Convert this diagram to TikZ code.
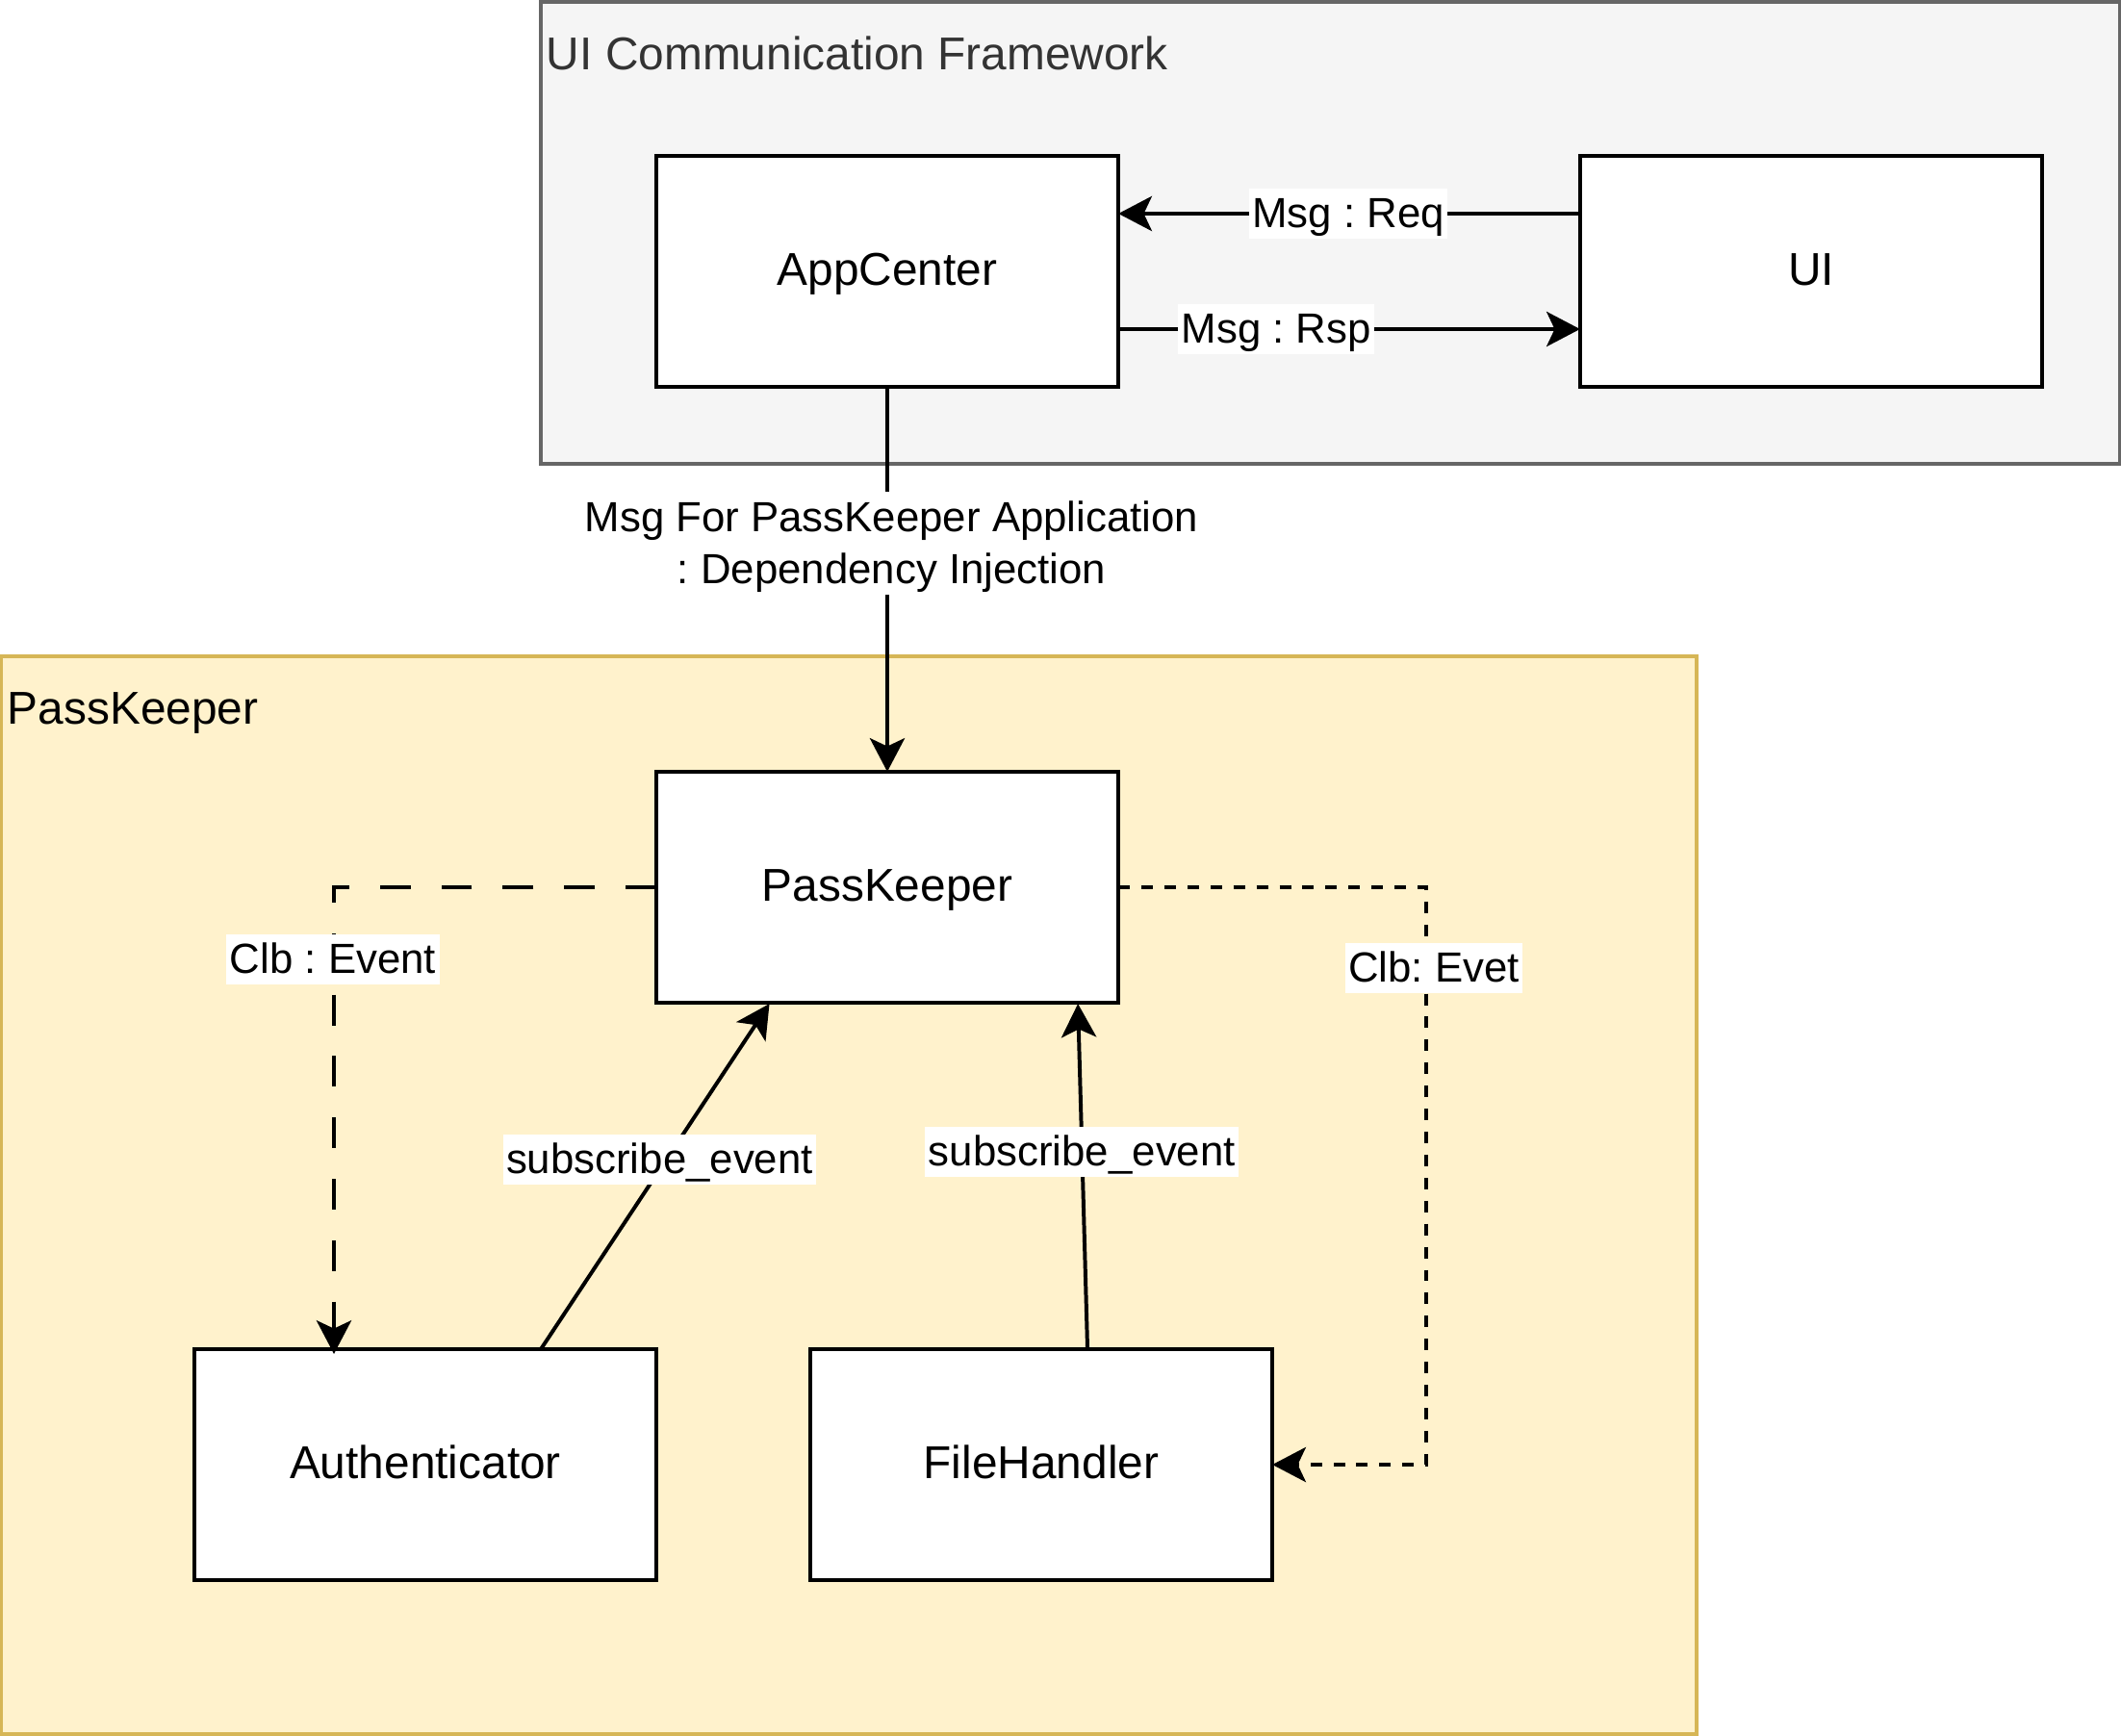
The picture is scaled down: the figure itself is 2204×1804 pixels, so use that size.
\documentclass[tikz,border=0pt]{standalone}
\usepackage{fontspec}
\setmainfont{Liberation Sans}
\usetikzlibrary{arrows.meta,calc}
\definecolor{uifill}{HTML}{F5F5F5}
\definecolor{uistroke}{HTML}{666666}
\definecolor{uitext}{HTML}{333333}
\definecolor{pkfill}{HTML}{FFF2CC}
\definecolor{pkstroke}{HTML}{D6B656}
\frenchspacing
\begin{document}
\begin{tikzpicture}[x=0.01cm,y=-0.01cm,line width=1.13pt,
  nodefont/.style={font=\fontsize{13.6pt}{16.3pt}\selectfont},
  lblfont/.style={font=\fontsize{12.45pt}{15.6pt}\selectfont},
  box/.style={draw=black,fill=white,minimum width=4.8cm,minimum height=2.4cm,inner sep=0pt,outer sep=0pt,nodefont,text height=10pt,text depth=1.5pt},
  arr/.style={-{Stealth[length=9.9pt,width=10.3pt,inset=2.4pt]}},
  lbl/.style={fill=white,inner xsep=1pt,inner ysep=0.6pt,text height=10.9pt,text depth=2.6pt,lblfont},
  lbltwo/.style={fill=white,inner xsep=1pt,inner ysep=0.6pt,lblfont,align=center},
  longdash/.style={dash pattern=on 9.07pt off 9.07pt},
  shortdash/.style={dash pattern=on 3.4pt off 3.4pt},
  title/.style={anchor=base west,inner sep=0pt,nodefont},
]
\useasboundingbox (0,0) rectangle (2204,1804);
% containers
\node[draw=uistroke,fill=uifill,minimum width=16.4cm,minimum height=4.8cm,inner sep=0pt,outer sep=0pt] (uicf) at (1382,242) {};
\node[title,text=uitext] (uititle) at (566,73) {UI Communication Framework};
\node[draw=pkstroke,fill=pkfill,minimum width=17.6cm,minimum height=11.2cm,inner sep=0pt,outer sep=0pt] (pkc) at (882,1242) {};
\node[title] (pktitle) at (6,752) {PassKeeper};
% nodes
\node[box] (app) at (922,282) {AppCenter};
\node[box] (ui) at (1882,282) {UI};
\node[box] (pk) at (922,922) {PassKeeper};
\node[box] (auth) at (442,1522) {Authenticator};
\node[box] (fh) at (1082,1522) {FileHandler};
% connectors
\coordinate (reqy) at (0,222);
\coordinate (rspy) at (0,342);
\draw[arr] (ui.west |- reqy) -- node[lbl,pos=0.502] (lreq) {Msg : Req} (app.east |- reqy);
\draw[arr] (app.east |- rspy) -- node[lbl,pos=0.342] (lrsp) {Msg : Rsp} (ui.west |- rspy);
\draw[arr] (app.south) -- node[lbltwo,pos=0.407,xshift=0.045cm] (ldi) {\strut Msg For PassKeeper Application\\: Dependency Injection\rule[-2.6pt]{0pt}{2.6pt}} (pk.north);
\coordinate (authin) at (347,1407);
\draw[arr,longdash] (pk.west) -| (authin);
\node[lbl] (lclb1) at (346,997) {Clb : Event};
\coordinate (dotx) at (1482,0);
\draw[arr,shortdash] (pk.east) -- (pk.east -| dotx) -- (dotx |- fh.east) -- (fh.east);
\node[lbl] (lclb2) at (1490,1006) {Clb: Evet};
\draw[arr] ($(auth.north west)!0.75!(auth.north east)$) -- node[lbl,pos=0.549,xshift=-0.07cm] (lsub1) {subscribe\_event} ($(pk.south west)!0.245!(pk.south east)+(0,1)$);
\draw[arr] ($(fh.north west)!0.6!(fh.north east)$) -- node[lbl,pos=0.571] (lsub2) {subscribe\_event} ($(pk.south west)!0.9125!(pk.south east)+(0,1)$);
\end{tikzpicture}
\end{document}
